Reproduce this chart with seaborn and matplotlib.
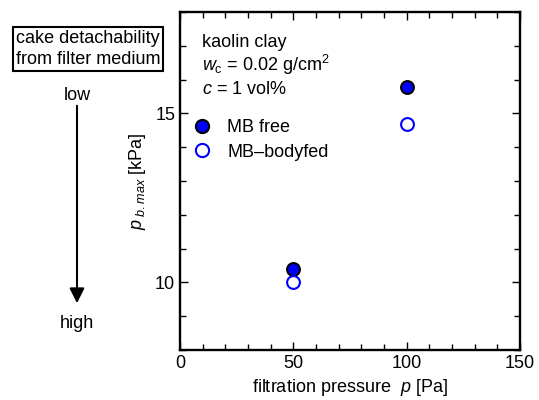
import matplotlib
matplotlib.use("Agg")
import matplotlib.pyplot as plt
import seaborn as sns
import pandas as pd
from matplotlib.lines import Line2D
from matplotlib.ticker import MultipleLocator

# data
pressure = [50, 100]
pb_free = [10.41, 15.79]
pb_bodyfed = [10.0, 14.69]
series_names = ["MB free", "MB\u2013bodyfed"]

df = pd.DataFrame({
    "p": pressure + pressure,
    "pb": pb_free + pb_bodyfed,
    "series": [series_names[0]] * 2 + [series_names[1]] * 2,
})

sns.set_style("ticks", {"axes.edgecolor": "black", "text.color": "black",
                        "xtick.color": "black", "ytick.color": "black",
                        "axes.labelcolor": "black"})
plt.rcParams["font.family"] = ["Liberation Sans", "DejaVu Sans"]
plt.rcParams["font.size"] = 13
plt.rcParams["mathtext.fontset"] = "custom"
plt.rcParams["mathtext.it"] = "Liberation Sans:italic"
plt.rcParams["mathtext.rm"] = "Liberation Sans"

fig = plt.figure(figsize=(5.39, 4), dpi=100)
ax = fig.add_axes([180 / 539, 1 - 350 / 400, 340 / 539, 338 / 400])

free = df[df["series"] == series_names[0]]
fed = df[df["series"] == series_names[1]]
sns.scatterplot(data=free, x="p", y="pb", ax=ax, s=85, color="#0000ff",
                edgecolor="black", linewidth=1.5, zorder=3, legend=False)
sns.scatterplot(data=fed, x="p", y="pb", ax=ax, s=85, facecolor="white",
                edgecolor="#0000ff", linewidth=1.5, zorder=3, legend=False)

ax.set_xlim(0, 150)
ax.set_ylim(8, 18)
ax.xaxis.set_major_locator(MultipleLocator(50))
ax.xaxis.set_minor_locator(MultipleLocator(10))
ax.yaxis.set_major_locator(MultipleLocator(5))
ax.yaxis.set_minor_locator(MultipleLocator(1))
ax.tick_params(which="both", direction="in", top=True, right=True, width=1, labelsize=13)
ax.tick_params(which="major", length=6)
ax.tick_params(which="minor", length=4)
for sp in ax.spines.values():
    sp.set_linewidth(1.7)

ax.set_xlabel(r"filtration pressure  $p$ [Pa]", fontsize=13, labelpad=4)
ax.set_ylabel(r"$p_{\ b.max}$ [kPa]", fontsize=13, labelpad=5)

ax.text(0.065, 0.91, "kaolin clay", transform=ax.transAxes, va="center")
ax.text(0.065, 0.842, r"$w_{\rm c}$ = 0.02 g/cm$^2$", transform=ax.transAxes, va="center")
ax.text(0.065, 0.77, r"$c$ = 1 vol%", transform=ax.transAxes, va="center")

handles = [
    Line2D([], [], marker="o", ls="none", ms=9.5, mfc="#0000ff", mec="black", mew=1.5),
    Line2D([], [], marker="o", ls="none", ms=9.5, mfc="white", mec="#0000ff", mew=1.5),
]
ax.legend(handles, series_names, loc="upper left", bbox_to_anchor=(-0.025, 0.72),
          frameon=False, handletextpad=0.4, labelspacing=0.4, fontsize=13,
          borderaxespad=0.3)

# detachability annotation on the left
fig.text(88 / 539, 1 - 49 / 400, "cake detachability\nfrom filter medium",
         ha="center", va="center", fontsize=13, linespacing=1.3,
         bbox=dict(boxstyle="square,pad=0.15", fc="white", ec="black", lw=1.5))
fig.text(77 / 539, 1 - 95 / 400, "low", ha="center", va="center", fontsize=13)
fig.text(77 / 539, 1 - 323 / 400, "high", ha="center", va="center", fontsize=13)
fig.add_artist(matplotlib.patches.FancyArrowPatch(
    (77 / 539, 1 - 103 / 400), (77 / 539, 1 - 306 / 400),
    transform=fig.transFigure, arrowstyle="-|>,head_length=0.6,head_width=0.3",
    mutation_scale=15, color="black", lw=1.5))

fig.savefig("out.png", dpi=100)
